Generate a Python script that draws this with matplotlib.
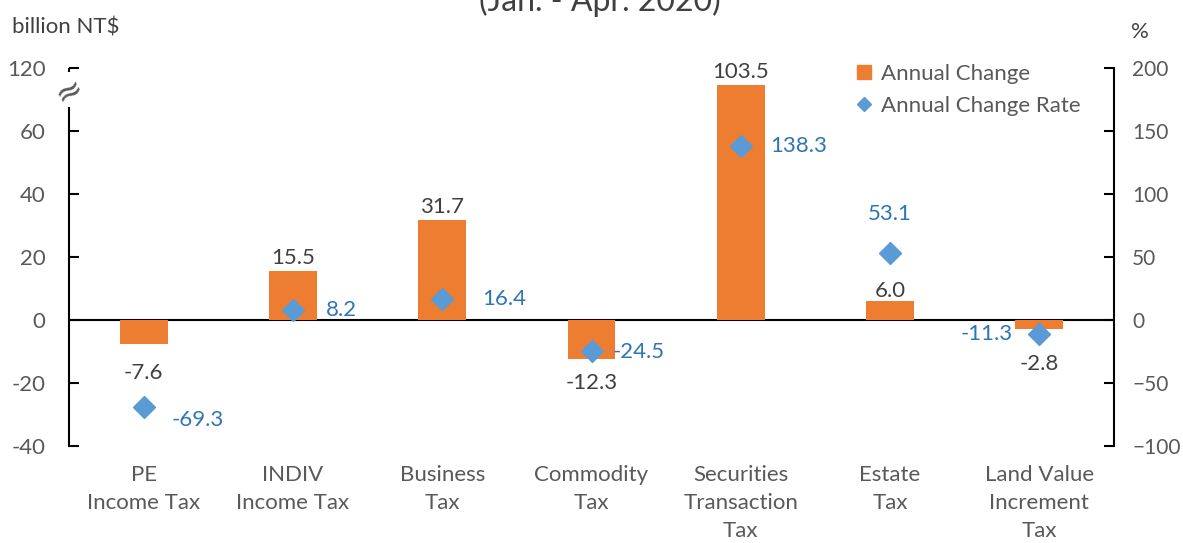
import matplotlib
matplotlib.use("Agg")
import matplotlib.pyplot as plt
from matplotlib.lines import Line2D
import numpy as np

categories = ["PE\nIncome Tax", "INDIV\nIncome Tax", "Business\nTax", "Commodity\nTax",
              "Securities\nTransaction\nTax", "Estate\nTax", "Land Value\nIncrement\nTax"]
annual_change = [-7.6, 15.5, 31.7, -12.3, 103.5, 6.0, -2.8]
change_rate = [-69.3, 8.2, 16.4, -24.5, 138.3, 53.1, -11.3]
left_ticks = [-40, -20, 0, 20, 40, 60, 120]
right_ticks = [-100, -50, 0, 50, 100, 150, 200]

# label offsets (pixels) - style only
bar_lbl_dy = [-29, 13, 13, -24, 13, 10, -35]
rate_lbl = [("left", 28, -13), ("left", 33, 0), ("left", 40, 0), ("left", 21, -1),
            ("left", 29, 0), ("center", 0, 39), ("right", -27, 0)]

plt.rcParams['font.family'] = ['Lato', 'DejaVu Sans']
ORANGE = "#ED7D31"
BLUE = "#5B9BD5"
BLUE_TXT = "#2E75B6"
GREY = "#595959"
DARK = "#404040"
FS = 16

W, H = 1183, 543
fig = plt.figure(figsize=(W / 100, H / 100), dpi=100)
ax = fig.add_axes([69 / W, 1 - 446 / H, (1114 - 69) / W, (446 - 68) / H])

BRK = 60.0
K = 1 / 3.0
def fwd(v):
    v = np.asarray(v, dtype=float)
    return np.where(v <= BRK, v, BRK + (v - BRK) * K)
def inv(v):
    v = np.asarray(v, dtype=float)
    return np.where(v <= BRK, v, BRK + (v - BRK) / K)
ax.set_yscale('function', functions=(fwd, inv))
ax.set_ylim(-40, 120)
ax.set_xlim(-0.5, len(categories) - 0.5)

x = np.arange(len(categories))
ax.bar(x, annual_change, width=0.32, color=ORANGE, zorder=2)
ax.axhline(0, color="black", lw=1.5, zorder=1)

ax2 = ax.twinx()
ax2.set_ylim(-100, 200)
ax2.plot(x, change_rate, linestyle="none", marker="D", markersize=11.5,
         color=BLUE, zorder=3)

for i, v in enumerate(annual_change):
    ax.annotate(f"{v:.1f}", xy=(i, v), xytext=(0, bar_lbl_dy[i]),
                textcoords="offset pixels", ha="center", va="center",
                fontsize=FS, color=DARK)
for i, v in enumerate(change_rate):
    ha, dx, dy = rate_lbl[i]
    ax2.annotate(f"{v:.1f}", xy=(i, v), xytext=(dx, dy),
                 textcoords="offset pixels", ha=ha, va="center",
                 fontsize=FS, color=BLUE_TXT)

# axes styling
ax.set_yticks(left_ticks)
ax.set_yticklabels([str(t) for t in left_ticks])
ax.set_xticks(x)
ax.set_xticklabels(categories, fontsize=FS, color=GREY, linespacing=1.5)
ax.tick_params(axis="x", length=0, pad=14)
ax.tick_params(axis="y", direction="in", length=7, width=1.5, labelsize=FS,
               labelcolor=GREY, pad=17)
ax2.set_yticks(right_ticks)
ax2.tick_params(axis="y", direction="in", length=7, width=1.5, labelsize=15,
                labelcolor=GREY, pad=13)
for a in (ax, ax2):
    a.spines["top"].set_visible(False)
    a.spines["bottom"].set_visible(False)
ax2.spines["left"].set_visible(False)
ax.spines["right"].set_visible(False)
ax2.spines["right"].set_linewidth(1.5)
ax.spines["left"].set_linewidth(1.5)
ax.spines["left"].set_bounds(-40, 82)
ax.plot([0, 0], [116, 120], transform=ax.get_yaxis_transform(), color="black",
        lw=1.5, clip_on=False, solid_capstyle="butt")
# axis break symbol
ax.text(0, 98, "≈", transform=ax.get_yaxis_transform(), ha="center", va="center",
        fontsize=24, color=GREY, rotation=30, family="DejaVu Sans")

# legend
handles = [Line2D([], [], linestyle="none", marker="s", markersize=10, color=ORANGE),
           Line2D([], [], linestyle="none", marker="D", markersize=7, color=BLUE)]
fig.legend(handles, ["Annual Change", "Annual Change Rate"], loc="upper left",
           bbox_to_anchor=(855 / W, 1 - 64 / H), frameon=False, fontsize=FS,
           handlelength=0.8, handletextpad=0.35, labelspacing=0.55,
           labelcolor=GREY, borderaxespad=0, borderpad=0)

fig.text(12 / W, 1 - 28 / H, "billion NT$", fontsize=FS, color=DARK, va="center", ha="left")
fig.text(1140 / W, 1 - 32 / H, "%", fontsize=FS, color=DARK, va="center", ha="center")
fig.text(600 / W, 1 - 11 / H, "(Jan. - Apr. 2020)", fontsize=23, color=DARK,
         ha="center", va="baseline")

fig.savefig("out.png", dpi=100)
